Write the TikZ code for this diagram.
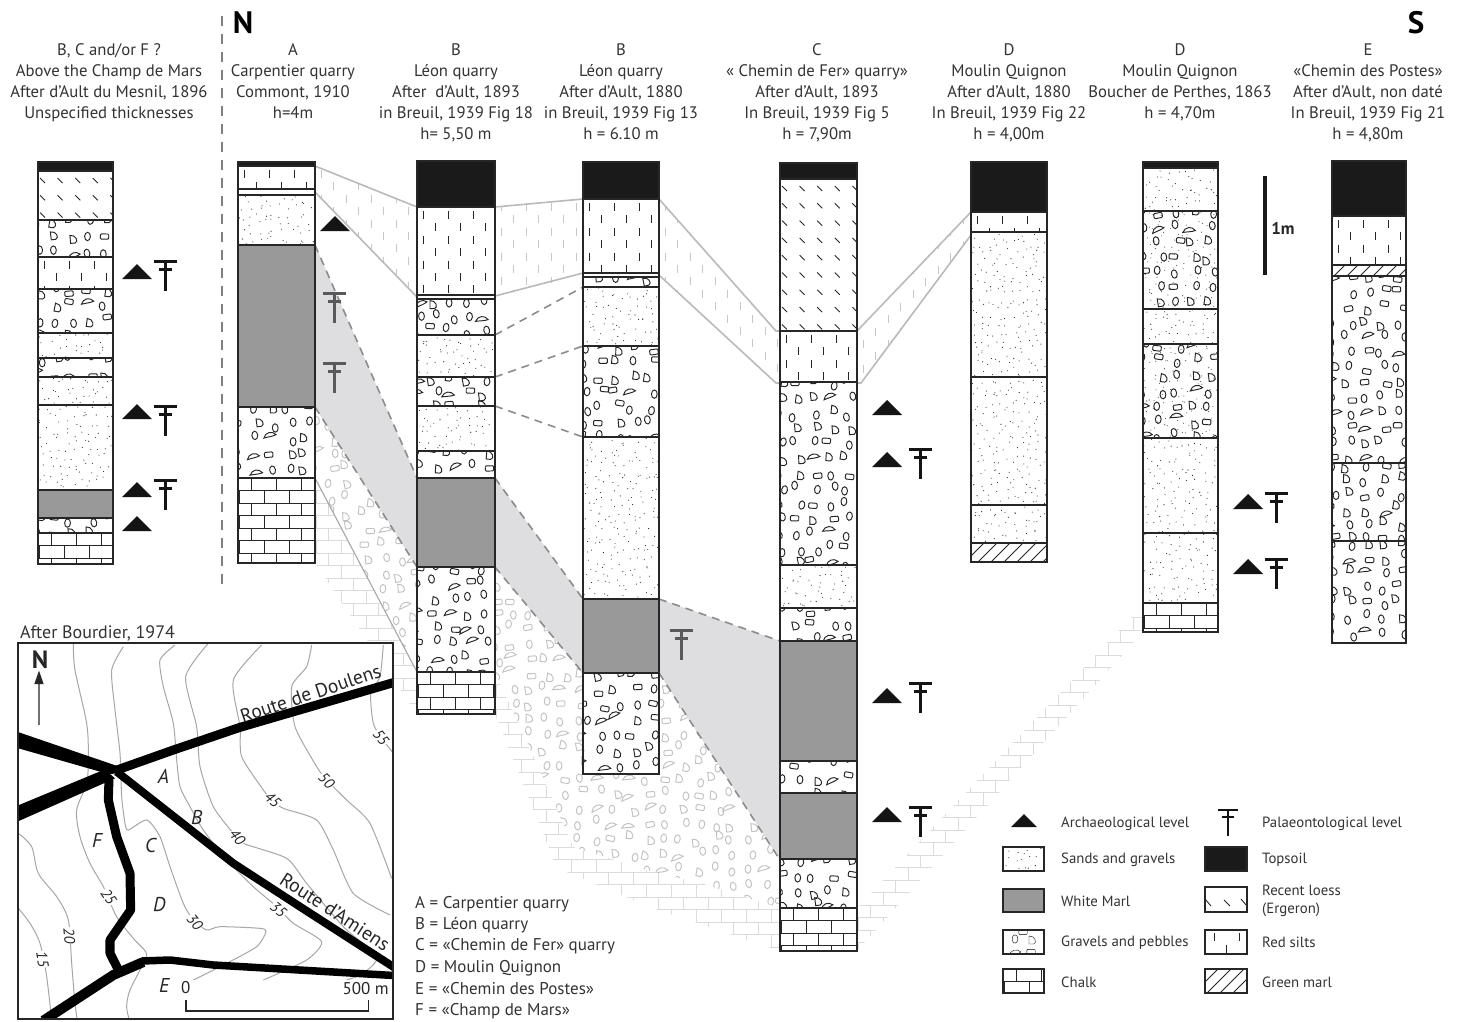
\documentclass[tikz,border=0pt]{standalone}
\usepackage{fontspec}
\setmainfont{PT Sans}
\definecolor{marl}{HTML}{999999}
\definecolor{lightmarl}{HTML}{DEDEE0}
\definecolor{soil}{HTML}{1A1A1A}
\definecolor{ink}{HTML}{262626}
\definecolor{txt}{HTML}{333333}
\definecolor{contour}{HTML}{A6A6A6}
\tikzset{
  edgeline/.style={line width=1.5pt,draw=ink},
  sepline/.style={line width=2.3pt,draw=ink},
  corrline/.style={line width=1.6pt,draw=black!27},
  dashline/.style={line width=1.6pt,draw=black!45,dash pattern=on 8pt off 6pt},
  hdr/.style={inner sep=0pt,anchor=north,align=center,text=txt,font=\fontsize{16.7}{21}\selectfont},
  lab/.style={inner sep=0pt,anchor=west,text=txt,font=\fontsize{14.8}{18}\selectfont},
  keytext/.style={inner sep=0pt,anchor=west,text=txt,font=\fontsize{17}{21}\selectfont},
  mapletter/.style={inner sep=0pt,text=ink,font=\fontsize{20}{22}\itshape\selectfont},
  contourlab/.style={inner sep=.6pt,fill=white,text=ink,font=\fontsize{15}{16}\itshape\selectfont},
  contourline/.style={draw=contour,line width=1pt},
  roadline/.style={draw=black,line join=round},
  bigletter/.style={inner sep=0pt,text=black,font=\fontsize{31}{33}\bfseries\selectfont},
}
% fills: x0 y0 x1 y1 colour
\newcommand\fillW[5]{}
\newcommand\fillT[5]{\fill[soil] (#1,#2) rectangle (#3,#4);}
\newcommand\fillM[5]{\fill[marl] (#1,#2) rectangle (#3,#4);}
\newcommand\fillS[5]{%
  \pgfmathsetmacro\sxn{#1+8}\pgfmathsetmacro\syn{#2+8}%
  \foreach \gx in {#1,\sxn,...,#3}{\foreach \gy in {#2,\syn,...,#4}{%
    \pgfmathsetmacro\px{\gx+rnd*8}\pgfmathsetmacro\py{\gy+rnd*8}%
    \fill[#5] (\px,\py) circle[radius=.55];}}}
\newcommand\pebble[4]{% x y kind rot
  \ifcase#3\relax
    \draw[shift={(#1,#2)},rotate=#4] (0,0) circle[x radius=2.9,y radius=4.2];
  \or
    \draw[shift={(#1,#2)},rotate=#4] (-3,-4) .. controls (3,-4.5) and (5.5,3) .. (1.5,4) -- (-3,4) -- cycle;
  \or
    \draw[shift={(#1,#2)},rotate=#4,rounded corners=1pt] (-4.2,-2.6) rectangle (4.2,2.6);
  \or
    \draw[shift={(#1,#2)},rotate=#4] (-6,3) .. controls (-5,-3) and (2,-5) .. (6,-1) .. controls (3,1) and (-2,1.5) .. (-6,3) -- cycle;
  \fi}
\newcommand\fillG[5]{%
  \begin{scope}[draw=#5,line width=.95pt]
  \pgfmathsetmacro\gxn{#1-5+17}\pgfmathsetmacro\gxs{#1-5}\pgfmathsetmacro\gyn{#2-3+15}\pgfmathsetmacro\gys{#2-3}%
  \foreach \gx in {\gxs,\gxn,...,#3}{\foreach \gy in {\gys,\gyn,...,#4}{%
    \pgfmathsetmacro\px{\gx+rnd*10}\pgfmathsetmacro\py{\gy+rnd*9}%
    \pgfmathrandominteger{\pj}{0}{9}\pgfmathsetmacro\pr{rnd*24-12}%
    \pgfmathtruncatemacro\pk{\pj<4?0:(\pj<7?1:(\pj<9?2:3))}%
    \pebble{\px}{\py}{\pk}{\pr}}}
  \end{scope}}
\newcommand\fillX[5]{\fillS{#1}{#2}{#3}{#4}{black!70}\fillG{#1}{#2}{#3}{#4}{#5}}
\newcommand\fillZ[5]{%
  \pgfmathtruncatemacro\nr{(#4-#2)/12.4}%
  \foreach \ii in {0,...,\nr}{%
    \pgfmathsetmacro\ty{#2+4+12.4*\ii}\pgfmathtruncatemacro\odd{mod(\ii,2)}%
    \pgfmathsetmacro\tx{#1+6+12.5*\odd}\pgfmathsetmacro\txn{\tx+25}%
    \foreach \xx in {\tx,\txn,...,#3}{\draw[#5,line width=1pt] (\xx,\ty) -- ++(0,8);}}}
\newcommand\fillL[5]{%
  \pgfmathtruncatemacro\nr{(#4-#2)/17.3}%
  \foreach \ii in {0,...,\nr}{%
    \pgfmathsetmacro\ty{#2+7+17.3*\ii}%
    \pgfmathsetmacro\tx{#1+2}\pgfmathsetmacro\txn{\tx+17.6}%
    \foreach \xx in {\tx,\txn,...,#3}{\draw[#5,line width=.9pt] (\xx,\ty) -- ++(5,5);}}}
\newcommand\fillK[5]{%
  \pgfmathtruncatemacro\nr{(#4-#2)/12.5}%
  \foreach \ii in {0,...,\nr}{%
    \pgfmathsetmacro\ty{#2+12.5*\ii}\pgfmathsetmacro\tyb{\ty+12.5}\pgfmathtruncatemacro\odd{mod(\ii,2)}%
    \draw[#5,line width=.75pt] (#1,\ty) -- (#3,\ty);
    \pgfmathsetmacro\tx{#1+(\odd==0?13:1)}\pgfmathsetmacro\txn{\tx+25}%
    \foreach \xx in {\tx,\txn,...,#3}{\draw[#5,line width=.75pt] (\xx,\ty) -- (\xx,\tyb);}}}
\newcommand\fillH[5]{%
  \pgfmathsetmacro\hh{#4-#2}\pgfmathsetmacro\hs{#1-\hh}\pgfmathsetmacro\hn{\hs+13}%
  \foreach \xx in {\hs,\hn,...,#3}{\pgfmathsetmacro\xe{\xx+\hh}\draw[#5,line width=.9pt] (\xx,#4) -- (\xe,#2);}}
% column: x0 x1 list y0/y1/type
\newcommand\strat[3]{%
  \foreach \ya/\yb/\ty in {#3}{%
    \fill[white] (#1,\ya) rectangle (#2,\yb);
    \begin{scope}\clip (#1,\ya) rectangle (#2,\yb);
      \csname fill\ty\endcsname{#1}{\ya}{#2}{\yb}{ink}
    \end{scope}}
  \foreach \ya/\yb/\ty in {#3}{\draw[sepline] (#1,\yb) -- (#2,\yb);}
  }
\newcommand\stratbox[4]{\draw[edgeline] (#1,#3) rectangle (#2,#4);}
\newcommand\tri[2]{\fill[black!92] (#1,#2) -- ++(30,0) -- ++(-15,-15) -- cycle;}
\newcommand\palT[3]{\draw[#3,line width=3pt] (#1-11.5,#2) -- (#1+11.5,#2) (#1-6.5,#2+8.5) -- (#1+6.5,#2+8.5) (#1,#2) -- (#1,#2+30);}
\newcommand\keybox[5]{%
  \fill[white] (#1,#2) rectangle (#3,#4);
  \begin{scope}\clip (#1,#2) rectangle (#3,#4); #5 \end{scope}
  \draw[line width=1.7pt,draw=ink] (#1,#2) rectangle (#3,#4);}
\begin{document}
\begin{tikzpicture}[x=1pt,y=-1pt]
\pgfmathsetseed{4711}
\useasboundingbox (0,0) rectangle (1466,1021);
\fill[white] (0,0) rectangle (1466,1021);
% ---- divider
\draw[line width=1.3pt,draw=black!50,dash pattern=on 10pt off 8pt] (222,16) -- (222,590);
% ---- correlation: silts
\foreach \pts/\bx in {
 {(315,166) -- (417,207) -- (417,297) -- (315,192) -- cycle}/{{315}{166}{417}{297}},
 {(495,207) -- (583,199) -- (583,275) -- (495,297) -- cycle}/{{495}{199}{583}{297}},
 {(659,199) -- (776,331) -- (780,331) -- (780,383) -- (776,383) -- (659,275) -- cycle}/{{659}{199}{780}{383}},
 {(857,331) -- (971,212) -- (971,235) -- (861,383) -- (857,383) -- cycle}/{{857}{212}{971}{383}}}{
 \begin{scope}\clip \pts;
   \expandafter\fillZ\bx{black!22}
 \end{scope}
}
\draw[corrline] (315,166) -- (417,207) (315,192) -- (417,297);
\draw[corrline] (495,207) -- (583,199) (495,296) -- (583,273);
\draw[corrline] (659,199) -- (776,331) -- (780,331) (659,275) -- (776,383) -- (780,383);
\draw[corrline] (857,331) -- (971,212) (857,383) -- (861,383) -- (971,235);
% ---- correlation: chalk
\begin{scope}\clip (315,478) -- (417,672) -- (417,714) -- (315,563) -- cycle;
  \fillK{315}{478}{417}{714}{black!14}
\end{scope}
\begin{scope}\clip (495,672) -- (495,714) -- (557,868) -- (650,907) -- (780,951) -- (780,908) -- (700,883) -- (647,870) -- (573,847) -- (550,793) -- cycle;
  \fillK{495}{672}{780}{951}{black!14}
\end{scope}
\begin{scope}\clip (857,908) -- (1143,605) -- (1143,632) -- (857,951) -- cycle;
  \fillK{857}{605}{1143}{951}{black!14}
\end{scope}
% ---- correlation: gravels
\begin{scope}\clip (315,407) -- (417,567) -- (417,672) -- (315,478) -- cycle;
  \fillG{315}{407}{417}{672}{black!24}
\end{scope}
\begin{scope}\clip (495,567) -- (583,673) -- (659,673) -- (780,860) -- (780,908) -- (700,883) -- (647,870) -- (573,847) -- (550,793) -- (495,672) -- cycle;
  \fillG{495}{567}{780}{908}{black!24}
\end{scope}
\draw[line width=1.1pt,draw=black!35] (315,478) -- (417,672);
% ---- correlation: marl
\fill[lightmarl] (315,245) -- (417,478) -- (417,567) -- (315,407) -- cycle;
\fill[lightmarl] (495,478) -- (583,599) -- (583,673) -- (495,567) -- cycle;
\fill[lightmarl] (659,599) -- (780,641) -- (780,860) -- (659,673) -- cycle;
\draw[dashline] (315,245) -- (417,478) (315,407) -- (417,567);
\draw[dashline] (495,478) -- (583,599) (495,567) -- (583,673);
\draw[dashline] (659,599) -- (780,641) (659,673) -- (780,860);
\draw[dashline] (495,335) -- (583,287) (495,377) -- (583,346) (495,406) -- (583,437);
% ---- columns
\strat{38}{113}{162/171/T,171/220/L,220/257/G,257/289/Z,289/333/G,333/358/S,358/377/G,377/405/S,405/490/S,490/518/M,518/533/G,533/564/K}
\stratbox{38}{113}{162}{564}
\strat{238}{315}{162/166/T,166/189/Z,189/195/W,195/245/S,245/407/M,407/478/G,478/563/K}
\stratbox{238}{315}{162}{563}
\strat{417}{495}{161/207/T,207/295/Z,295/299/W,299/335/G,335/377/S,377/406/G,406/451/S,451/478/G,478/567/M,567/672/G,672/714/K}
\stratbox{417}{495}{161}{714}
\strat{583}{659}{162/199/T,199/273/Z,273/277/W,277/287/G,287/346/S,346/437/G,437/599/S,599/673/M,673/774/G}
\stratbox{583}{659}{162}{774}
\strat{780}{857}{163/179/T,179/331/L,331/382/Z,382/565/G,565/608/S,608/641/G,641/761/M,761/793/G,793/859/M,859/908/G,908/951/K}
\stratbox{780}{857}{163}{951}
\strat{971}{1047}{162/212/T,212/232/Z,232/377/S,377/505/S,505/543/S,543/562/H}
\stratbox{971}{1047}{162}{562}
\strat{1143}{1218}{162/168/T,168/211/S,211/309/X,309/344/S,344/438/X,438/533/S,533/603/S,603/632/K}
\stratbox{1143}{1218}{162}{632}
\strat{1332}{1406}{161/216/T,216/265/Z,265/276/H,276/463/G,463/541/G,541/643/G}
\stratbox{1332}{1406}{161}{643}
% ---- levels
\tri{122}{279}\palT{165.5}{261}{black!92}
\tri{122}{419}\palT{165.5}{406}{black!92}
\tri{122}{497}\palT{165.5}{480}{black!92}
\tri{122}{531}
\tri{320}{231}
\palT{334.5}{293}{black!65}
\palT{334.5}{363}{black!65}
\palT{681}{630}{black!65}
\tri{872}{415}
\tri{872}{467}\palT{920.5}{449}{black!92}
\tri{872}{703}\palT{920.5}{683}{black!92}
\tri{872}{822}\palT{920.5}{807}{black!92}
\tri{1233}{509}\palT{1276}{493}{black!92}
\tri{1233}{574}\palT{1276}{559}{black!92}
% ---- scale
\draw[line width=4pt,draw=soil] (1265,176) -- (1265,275);
\node[inner sep=0pt,text=ink,font=\fontsize{17}{20}\bfseries\selectfont] (onem) at (1283,228) {1m};
% ---- headers
\node[bigletter] (northL) at (243,23) {N};
\node[bigletter] (southL) at (1416,23) {S};
\node[hdr] (h0) at (109,43.5) {B, C and/or F ?\\Above the Champ de Mars\\After d’Ault du Mesnil, 1896\\Unspecified thicknesses};
\node[hdr] (h1) at (293,43.5) {A\\Carpentier quarry\\Commont, 1910\\h=4m};
\node[hdr] (h2) at (456,43.5) {B\\Léon quarry\\After\ \ d’Ault, 1893\\in Breuil, 1939 Fig 18\\h= 5,50 m};
\node[hdr] (h3) at (621,43.5) {B\\Léon quarry\\After d’Ault, 1880\\in Breuil, 1939 Fig 13\\h = 6.10 m};
\node[hdr] (h4) at (817,43.5) {C\\« Chemin de Fer» quarry»\\After d’Ault, 1893\\In Breuil, 1939 Fig 5\\h = 7,90m};
\node[hdr] (h5) at (1009,43.5) {D\\Moulin Quignon\\After d’Ault, 1880\\In Breuil, 1939 Fig 22\\h = 4,00m};
\node[hdr] (h6) at (1180,43.5) {D\\Moulin Quignon\\Boucher de Perthes, 1863\\h = 4,70m};
\node[hdr] (h7) at (1368,43.5) {E\\«Chemin des Postes»\\After d’Ault, non daté\\In Breuil, 1939 Fig 21\\h = 4,80m};
% ---- map
\node[keytext,font=\fontsize{18}{21}\selectfont] (mapt) at (20,633) {After Bourdier, 1974};
\fill[white] (18,643) rectangle (393,1019);
\begin{scope}
\clip (18,643) rectangle (393,1019);
\begin{scope}[shift={(0,610)},scale=1/3]
\draw[contourline] plot[smooth,tension=.5] coordinates {(55,895) (90,940) (120,1000) (140,1100) (155,1230)};
\draw[contourline] plot[smooth,tension=.5] coordinates {(55,670) (95,710) (115,790) (170,860) (205,930) (215,1060) (225,1180) (232,1230)};
\draw[contourline] plot[smooth,tension=.5] coordinates {(220,100) (225,180) (260,340) (265,440) (260,520) (230,600) (240,680) (270,760) (310,830) (350,920) (400,985) (437,1025) (435,1050) (390,1140) (380,1190) (388,1230)};
\draw[contourline] plot[smooth,tension=.4] coordinates {(370,110) (335,180) (345,300) (360,430) (365,560) (375,640) (385,660) (440,630) (480,680) (510,770) (550,880) (580,930) (620,960) (660,950) (780,955) (798,965) (770,1010) (680,1060) (580,1110)};
\draw[contourline] plot[smooth,tension=.4] coordinates {(525,105) (480,150) (490,230) (520,340) (530,450) (540,530) (570,590) (610,660) (680,750) (760,830) (830,890) (880,940) (965,995) (920,1050) (790,1110)};
\draw[contourline] plot[smooth,tension=.4] coordinates {(625,100) (557,200) (590,350) (600,470) (640,590) (700,670) (730,700) (860,745) (920,820) (1030,950) (1130,1040) (1090,1090) (1040,1110)};
\draw[contourline] plot[smooth,tension=.4] coordinates {(785,105) (700,210) (720,350) (725,440) (790,540) (815,570) (850,595) (950,630) (1000,720) (1060,850) (1170,915)};
\draw[contourline] plot[smooth,tension=.4] coordinates {(935,105) (920,170) (875,230) (885,350) (950,470) (980,510) (1040,570) (1110,640) (1175,805)};
\draw[contourline] plot[smooth,tension=.4] coordinates {(1150,105) (1140,200) (1112,250) (1120,340) (1145,385) (1185,435)};
% roads
\fill[black] (45,363) -- (352,468) -- (360,490) -- (325,492) -- (45,412) -- cycle;
\fill[black] (45,590) -- (315,478) -- (345,505) -- (45,638) -- cycle;
\draw[roadline,line width=9pt] (345,482) -- (520,420) -- (720,352) -- (1190,215);
\draw[roadline,line width=8pt] (350,485) -- (560,650) -- (700,760) -- (900,890) -- (1190,1077);
\draw[roadline,line width=9pt] (327,505) -- (325,570) -- (350,680) -- (390,790) -- (392,900) -- (330,990) -- (330,1030) -- (358,1085);
\draw[roadline,line width=10pt] (130,1232) -- (340,1095) -- (430,1056);
\draw[roadline,line width=7.5pt] (425,1053) -- (510,1050) -- (640,1065) -- (1190,1097);
% contour labels
\node[contourlab,rotate=-80] (c15) at (128,1048) {15};
\node[contourlab,rotate=-85] (c20) at (208,977) {20};
\node[contourlab,rotate=-55] (c25) at (326,860) {25};
\node[contourlab,rotate=-50] (c30) at (585,935) {30};
\node[contourlab,rotate=-40] (c35) at (835,900) {35};
\node[contourlab,rotate=-50] (c40) at (712,682) {40};
\node[contourlab,rotate=-42] (c45) at (818,570) {45};
\node[contourlab,rotate=-45] (c50) at (980,512) {50};
\node[contourlab,rotate=-52] (c55) at (1143,383) {55};
% letters
\node[mapletter] (mA) at (490,500) {A};
\node[mapletter] (mB) at (590,622) {B};
\node[mapletter] (mC) at (452,705) {C};
\node[mapletter] (mD) at (478,883) {D};
\node[mapletter] (mE) at (493,1127) {E};
\node[mapletter] (mF) at (291,690) {F};
\node[inner sep=0pt,text=ink,rotate=18.5,font=\fontsize{19.5}{22}\selectfont] (rdD) at (932,250) {Route de Doulens};
\node[inner sep=0pt,text=ink,rotate=-33,font=\fontsize{19.5}{22}\selectfont] (rdA) at (1005,905) {Route d’Amiens};
% north arrow
\node[inner sep=0pt,text=ink,font=\fontsize{25}{27}\bfseries\selectfont] (mN) at (120,150) {N};
\coordinate (arrA) at (117,345);
\fill[ink] (117,182) -- (131,222) -- (103,222) -- cycle;
\draw[line width=1.3pt,draw=ink] (arrA) -- (117,215);
% scale
\draw[line width=1.1pt,draw=ink] (558,1170) -- (558,1203) -- (1105,1203) -- (1105,1170);
\node[inner sep=0pt,text=ink,font=\fontsize{17}{18}\selectfont] (s0) at (557,1133) {0};
\node[inner sep=0pt,text=ink,font=\fontsize{17}{18}\selectfont] (s5) at (1097,1137) {500 m};
\end{scope}
\end{scope}
\draw[line width=1.4pt,draw=ink] (18,643) rectangle (393,1019);
% ---- key to map
\node[keytext] (k1) at (415,904) {A = Carpentier quarry};
\node[keytext] (k2) at (415,925) {B = Léon quarry};
\node[keytext] (k3) at (415,946) {C = «Chemin de Fer» quarry};
\node[keytext] (k4) at (415,968) {D = Moulin Quignon};
\node[keytext] (k5) at (415,989) {E = «Chemin des Postes»};
\node[keytext] (k6) at (415,1011) {F = «Champ de Mars»};
% ---- legend
\fill[black!92] (1011,827) -- (1037,827) -- (1024,814) -- cycle;
\draw[line width=2.6pt,draw=black!92] (1218,810) -- (1238,810) (1222,817) -- (1234,817) (1228,810) -- (1228,836);
\keybox{1003}{847}{1044}{871}{\fillS{1003}{847}{1044}{871}{ink}}
\keybox{1003}{889}{1044}{912}{\fillM{1003}{889}{1044}{912}{ink}}
\keybox{1003}{930}{1044}{954}{\pebble{1015}{939}{0}{0}\pebble{1032}{940}{1}{0}\pebble{1023}{932}{2}{0}\pebble{1031}{952}{2}{0}\pebble{1015}{953}{3}{0}}
\keybox{1003}{969}{1044}{993}{\fillK{1003}{969}{1044}{993}{ink}}
\keybox{1205}{847}{1247}{871}{\fill[soil] (1205,847) rectangle (1247,871);}
\keybox{1205}{887}{1247}{912}{\draw[ink,line width=.9pt] (1205,899) -- ++(6,7) (1224,900) -- ++(6,6) (1241,899) -- ++(6,7);}
\keybox{1205}{930}{1247}{954}{\draw[ink,line width=1pt] (1214,933) -- ++(0,8) (1239,933) -- ++(0,8) (1226,945) -- ++(0,9);}
\keybox{1205}{969}{1247}{993}{\fillH{1205}{969}{1247}{993}{ink}}
\foreach \nn/\yy/\tt in {a/823.5/Archaeological level,b/859.5/Sands and gravels,c/901/White Marl,d/942.5/Gravels and pebbles,e/982/Chalk}{
  \node[lab] (leg\nn) at (1061,\yy) {\tt};}
\foreach \nn/\yy/\tt in {f/823.5/Palaeontological level,g/859.5/Topsoil,h/942.5/Red silts,i/982/Green marl}{
  \node[lab] (leg\nn) at (1262,\yy) {\tt};}
\node[lab,align=left] (legj) at (1262,900.5) {Recent loess\\(Ergeron)};
\end{tikzpicture}
\end{document}
